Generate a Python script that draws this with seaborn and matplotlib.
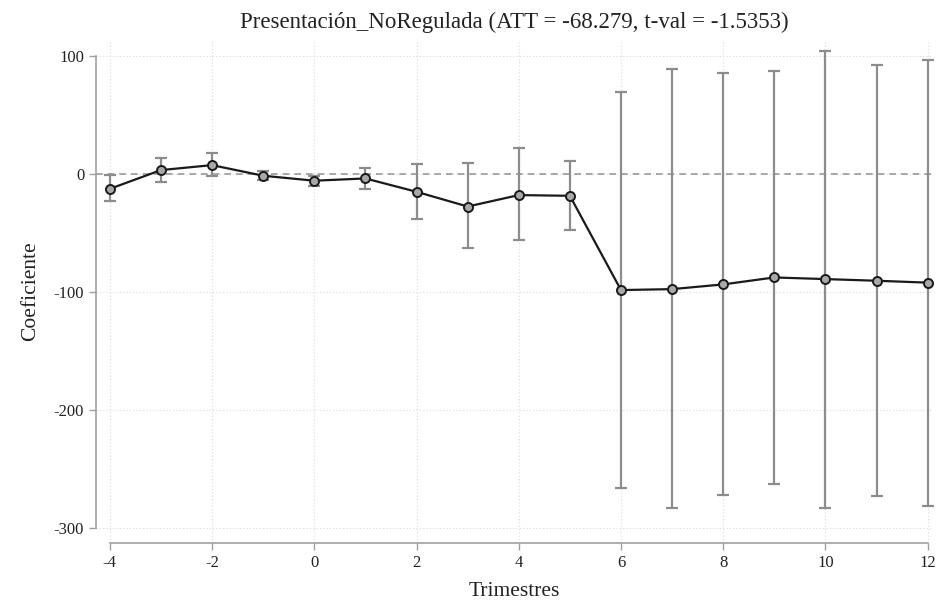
import numpy as np
import pandas as pd
import matplotlib
matplotlib.use("Agg")
import matplotlib.pyplot as plt
import seaborn as sns

periods = [-4, -3, -2, -1, 0, 1, 2, 3, 4, 5, 6, 7, 8, 9, 10, 11, 12]
coef = [-12.5, 3.4, 7.6, -1.4, -5.6, -3.7, -15.0, -27.5, -17.8, -18.4,
        -98.3, -97.5, -93.5, -87.6, -89.0, -90.4, -92.0]
ci_upper = [-1.0, 14.0, 17.5, 3.0, -1.7, 4.8, 8.5, 9.3, 21.8, 11.0,
            70.0, 89.0, 85.6, 87.5, 104.0, 92.6, 96.6]
ci_lower = [-23.0, -6.5, -1.7, -5.0, -10.0, -12.7, -38.0, -63.0, -56.0, -47.0,
            -265.8, -283.0, -272.0, -263.0, -283.0, -273.0, -281.6]
x_ticks = [-4, -2, 0, 2, 4, 6, 8, 10, 12]
y_ticks = [100, 0, -100, -200, -300]
title = "Presentación_NoRegulada (ATT = -68.279, t-val = -1.5353)"
x_label = "Trimestres"
y_label = "Coeficiente"

df = pd.DataFrame({"t": periods, "coef": coef, "lo": ci_lower, "hi": ci_upper})

sns.set_style("white")
plt.rcParams["font.family"] = ["Liberation Serif", "DejaVu Serif"]
plt.rcParams["axes.unicode_minus"] = False

fig = plt.figure(figsize=(9.37, 6.07), dpi=100)
ax = fig.add_axes([0.1025, 0.1054, 0.893, 0.8286])

# grid
for xt in x_ticks:
    ax.axvline(xt, color="#d9d9d9", lw=0.8, ls=(0, (1, 2)), zorder=0)
for yt in y_ticks:
    ax.axhline(yt, color="#d9d9d9", lw=0.8, ls=(0, (1, 2)), zorder=0)

ax.axhline(0, color="#999999", lw=1.2, ls=(0, (4, 3)), zorder=1)

yerr = np.vstack([df["coef"] - df["lo"], df["hi"] - df["coef"]])
ax.errorbar(df["t"], df["coef"], yerr=yerr, fmt="none", ecolor="#8c8c8c",
            elinewidth=1.6, capsize=4, capthick=1.6, zorder=2)

sns.lineplot(data=df, x="t", y="coef", ax=ax, color="#1a1a1a", lw=1.6,
             marker="o", markersize=6.5, markerfacecolor="#a8a8a8",
             markeredgecolor="#1a1a1a", markeredgewidth=1.4, zorder=3)

ax.set_xlim(-4.27, 12.1)
ax.set_ylim(-312.7, 113.6)
ax.set_xticks(x_ticks)
ax.set_yticks(y_ticks)
ax.tick_params(axis="both", direction="out", length=5, width=1, color="#a0a0a0",
               labelsize=12, labelcolor="#222222", left=True, bottom=True)

for s in ["top", "right"]:
    ax.spines[s].set_visible(False)
ax.spines["left"].set_bounds(-300, 100)
ax.spines["bottom"].set_bounds(-4, 12)
for s in ["left", "bottom"]:
    ax.spines[s].set_color("#a0a0a0")
    ax.spines[s].set_linewidth(1.2)

ax.set_title(title, fontsize=16.5, color="#222222", pad=9)
ax.set_xlabel(x_label, fontsize=15.5, color="#222222", labelpad=8)
ax.set_ylabel(y_label, fontsize=15.5, color="#222222", labelpad=10)

fig.savefig("out.png", dpi=100)
